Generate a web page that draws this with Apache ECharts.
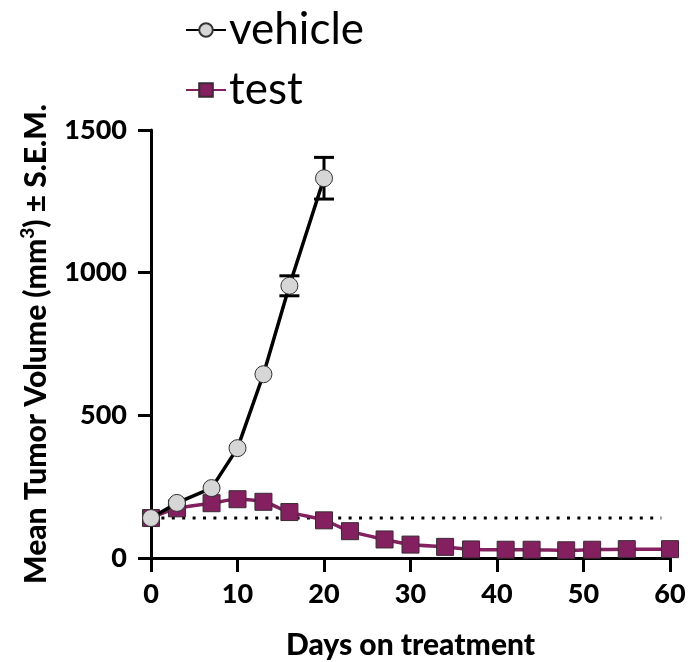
<!DOCTYPE html>
<html>
<head>
<meta charset="utf-8">
<script src="https://cdn.jsdelivr.net/npm/echarts@6/dist/echarts.min.js"></script>
<style>html,body{margin:0;padding:0;background:#fff}#c{width:690px;height:662px}</style>
</head>
<body>
<div id="c"></div>
<script>
// Data
var vehicleDays = [0, 3, 7, 10, 13, 16, 20];
var vehicleMeans = [140, 193, 245, 385, 644, 954, 1331];
var vehicleSem = [0, 0, 0, 0, 0, 35, 73];
var testDays = [0, 3, 7, 10, 13, 16, 20, 23, 27, 30, 34, 37, 41, 44, 48, 51, 55, 60];
var testMeans = [140, 174, 192, 206, 197, 161, 132, 94, 65, 47, 39, 30, 29, 29, 27, 29, 31, 31];
var baselineDays = [0, 59];
var baselineValue = 140;
var xTicks = [0, 10, 20, 30, 40, 50, 60];
var yTicks = [0, 500, 1000, 1500];

var PURPLE = '#84205F';
var FONT = 'Lato';

function pairs(xs, ys) { return xs.map(function (x, i) { return [x, ys[i]]; }); }

var errData = [];
vehicleDays.forEach(function (d, i) { if (vehicleSem[i] > 0) errData.push([d, vehicleMeans[i], vehicleSem[i]]); });

var chart = echarts.init(document.getElementById('c'), null, { renderer: 'canvas' });
chart.setOption({
  animation: false,
  backgroundColor: '#fff',
  grid: { left: 151, right: 20, top: 130, bottom: 104, containLabel: false, outerBoundsMode: 'none' },
  legend: {
    orient: 'vertical', left: 180, top: 1, itemWidth: 40, itemHeight: 17, itemGap: 12,
    textStyle: { fontFamily: FONT, fontSize: 44, color: '#000', lineHeight: 48, padding: [0, 0, 0, -2] },
    data: ['vehicle', 'test']
  },
  xAxis: {
    type: 'value', min: xTicks[0], max: xTicks[xTicks.length - 1], interval: 10,
    name: 'Days on treatment', nameLocation: 'middle', nameGap: 72,
    nameTextStyle: { fontFamily: FONT, fontWeight: 900, fontSize: 30, color: '#000' },
    axisLine: { lineStyle: { color: '#000', width: 3 } },
    axisTick: { length: 14, lineStyle: { color: '#000', width: 3 } },
    axisLabel: { margin: 23, fontFamily: FONT, fontWeight: 900, fontSize: 27, color: '#000',
      formatter: function (v) { return String(v); } },
    splitLine: { show: false }
  },
  yAxis: {
    type: 'value', min: yTicks[0], max: yTicks[yTicks.length - 1], interval: 500,
    name: '{a|Mean Tumor Volume (mm}{s|3}{a|) ± S.E.M.}', nameLocation: 'middle', nameGap: 96, nameRotate: 90,
    nameTextStyle: {
      fontFamily: FONT, fontWeight: 900, fontSize: 30, color: '#000',
      rich: {
        a: { fontFamily: FONT, fontWeight: 900, fontSize: 30, color: '#000', lineHeight: 34 },
        s: { fontFamily: FONT, fontWeight: 900, fontSize: 19, color: '#000', lineHeight: 34, padding: [0, 0, 16, 0] }
      }
    },
    axisLine: { show: true, lineStyle: { color: '#000', width: 3 } },
    axisTick: { show: true, length: 13, lineStyle: { color: '#000', width: 3 } },
    axisLabel: { margin: 24, fontFamily: FONT, fontWeight: 900, fontSize: 27, color: '#000',
      formatter: function (v) { return String(v); } },
    splitLine: { show: false }
  },
  series: [
    {
      name: 'baseline', type: 'line', data: pairs(baselineDays, [baselineValue, baselineValue]),
      symbol: 'none', silent: true, z: 1,
      lineStyle: { color: '#000', width: 3, type: [3, 7.4] }
    },
    {
      name: 'test', type: 'line', data: pairs(testDays, testMeans), smooth: 0.3, z: 3,
      symbol: 'rect', symbolSize: 17, clip: false,
      lineStyle: { color: PURPLE, width: 3.5 },
      itemStyle: { color: PURPLE, borderColor: '#3a2a33', borderWidth: 1 }
    },
    {
      name: 'vehicle-err', type: 'custom', z: 4, silent: true,
      data: errData,
      renderItem: function (params, api) {
        var x = api.value(0), y = api.value(1), e = api.value(2);
        var t = api.coord([x, y + e]), b = api.coord([x, y - e]);
        var hw = 10;
        var st = { stroke: '#000', lineWidth: 3 };
        return { type: 'group', children: [
          { type: 'line', shape: { x1: t[0], y1: t[1], x2: b[0], y2: b[1] }, style: st },
          { type: 'line', shape: { x1: t[0] - hw, y1: t[1], x2: t[0] + hw, y2: t[1] }, style: st },
          { type: 'line', shape: { x1: b[0] - hw, y1: b[1], x2: b[0] + hw, y2: b[1] }, style: st }
        ] };
      }
    },
    {
      name: 'vehicle', type: 'line', data: pairs(vehicleDays, vehicleMeans), z: 5,
      symbol: 'circle', symbolSize: 17, clip: false,
      lineStyle: { color: '#000', width: 3.5 },
      itemStyle: { color: '#D6D6D6', borderColor: '#333', borderWidth: 1 }
    }
  ]
});
</script>
</body>
</html>
